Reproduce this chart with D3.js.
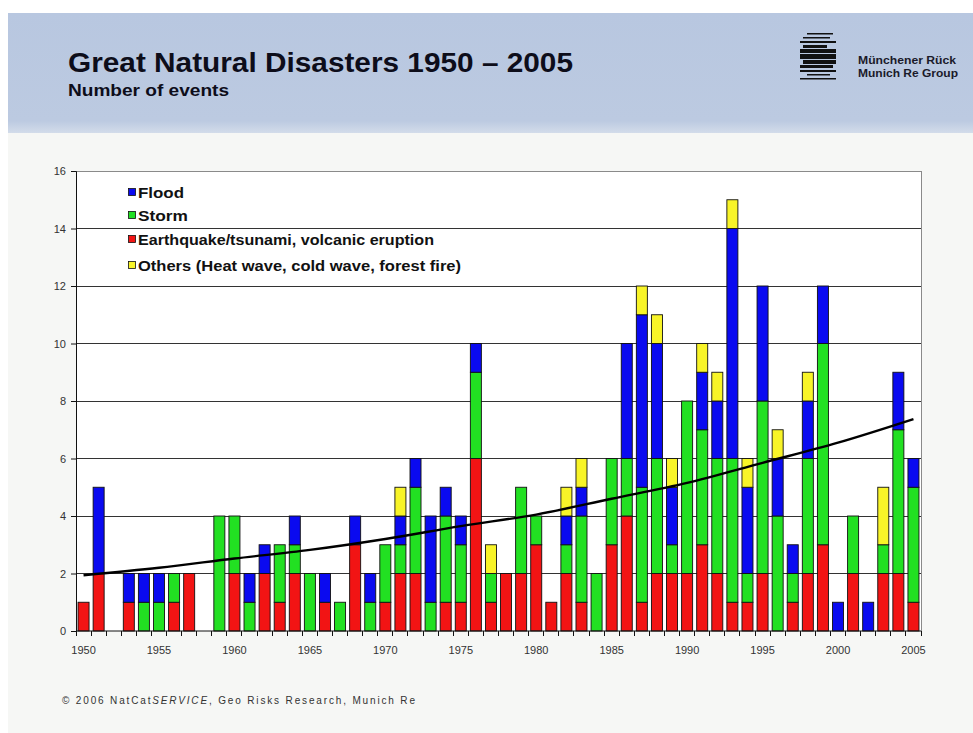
<!DOCTYPE html>
<html>
<head>
<meta charset="utf-8">
<script src="https://cdn.jsdelivr.net/npm/d3@7"></script>
<style>
  html, body { margin: 0; padding: 0; background: #ffffff; }
  svg { display: block; font-family: "Liberation Sans", Arial, Helvetica, sans-serif; }
</style>
</head>
<body>
<svg id="chart" width="973" height="733"></svg>
<script>
// Great natural disasters per year, split by event type
const years = d3.range(1950, 2006);
const quake = [1,2,0,1,0,0,1,2,0,0, 2,0,2,1,2,0,1,0,3,0, 1,2,2,0,1,1,6,1,2,2,
               3,1,2,1,0,3,4,1,2,2, 2,3,2,1,1,2,0,1,2,3, 0,2,0,2,2,1];
const storm = [0,0,0,0,1,1,1,0,0,4, 2,1,0,2,1,2,0,1,0,1, 2,1,3,1,3,2,3,1,0,3,
               1,0,1,3,2,3,2,4,4,1, 6,4,4,5,1,6,4,1,4,7, 0,2,0,1,5,4];
const flood = [0,3,0,1,1,1,0,0,0,0, 0,1,1,0,1,0,1,0,1,1, 0,1,1,3,1,1,1,0,0,0,
               0,0,1,1,0,0,4,6,4,2, 0,2,2,8,3,4,2,1,2,2, 1,0,1,0,2,1];
const others = [0,0,0,0,0,0,0,0,0,0, 0,0,0,0,0,0,0,0,0,0, 0,1,0,0,0,0,0,1,0,0,
                0,0,1,1,0,0,0,1,1,1, 0,1,1,1,1,0,1,0,1,0, 0,0,0,2,0,0];

// Trend curve of the yearly totals
const trendYears  = [1950, 1955, 1960, 1965, 1970, 1975, 1980, 1985, 1990, 1995, 2000, 2005];
const trendValues = [1.94, 2.2, 2.52, 2.82, 3.2, 3.65, 4.05, 4.6, 5.15, 5.85, 6.55, 7.37];

const yTicks = [0, 2, 4, 6, 8, 10, 12, 14, 16];
const xTickLabels = [1950, 1955, 1960, 1965, 1970, 1975, 1980, 1985, 1990, 1995, 2000, 2005];

const seriesKeys = ["quake", "storm", "flood", "others"];
const seriesColors = { quake: "#f21414", storm: "#22e022", flood: "#0a0af0", others: "#f8f428" };
const legendItems = [
  { key: "flood",  label: "Flood" },
  { key: "storm",  label: "Storm" },
  { key: "quake",  label: "Earthquake/tsunami, volcanic eruption" },
  { key: "others", label: "Others (Heat wave, cold wave, forest fire)" }
];

const svg = d3.select("#chart");

// Slide background and header band
const defs = svg.append("defs");
const grad = defs.append("linearGradient").attr("id", "hdr").attr("x1", 0).attr("x2", 0).attr("y1", 0).attr("y2", 1);
grad.append("stop").attr("offset", "0%").attr("stop-color", "#b8c7e0");
grad.append("stop").attr("offset", "90%").attr("stop-color", "#bccae1");
grad.append("stop").attr("offset", "100%").attr("stop-color", "#d3dcea");

svg.append("rect").attr("x", 8).attr("y", 13).attr("width", 965).attr("height", 720).attr("fill", "#f6f7f5");
svg.append("rect").attr("x", 8).attr("y", 13).attr("width", 965).attr("height", 120).attr("fill", "url(#hdr)");

svg.append("text").attr("x", 68).attr("y", 72)
  .attr("font-size", 28).attr("font-weight", "bold").attr("fill", "#0d0d1a")
  .attr("textLength", 505).attr("lengthAdjust", "spacingAndGlyphs")
  .text("Great Natural Disasters 1950 \u2013 2005");
svg.append("text").attr("x", 68).attr("y", 96)
  .attr("font-size", 16).attr("font-weight", "bold").attr("fill", "#0d0d1a")
  .attr("textLength", 161).attr("lengthAdjust", "spacingAndGlyphs")
  .text("Number of events");

// Company mark
const logo = svg.append("g").attr("fill", "#111");
[[807,33,26,1.5],[803,37,27,1.5],[800,41,36,2],[803,45,24,3],[800,49,36,4],[800,54,36,5],
 [803,60,33,4],[800,65,33,3],[800,70,36,2],[807,74,23,1.5],[800,78,36,1.5]]
  .forEach(r => logo.append("rect").attr("x", r[0]).attr("y", r[1]).attr("width", r[2]).attr("height", r[3]));
svg.append("text").attr("x", 858).attr("y", 64).attr("font-size", 10).attr("font-weight", "bold").attr("fill", "#1a1a2a")
  .attr("textLength", 98).attr("lengthAdjust", "spacingAndGlyphs").text("Münchener Rück");
svg.append("text").attr("x", 858).attr("y", 77).attr("font-size", 10).attr("font-weight", "bold").attr("fill", "#1a1a2a")
  .attr("textLength", 100).attr("lengthAdjust", "spacingAndGlyphs").text("Munich Re Group");

// Plot area
const plotLeft = 76, plotRight = 921, plotTop = 171, plotBottom = 631;
svg.append("rect").attr("x", plotLeft).attr("y", plotTop).attr("width", plotRight - plotLeft)
  .attr("height", plotBottom - plotTop).attr("fill", "#ffffff");

const x = d3.scaleBand().domain(years).range([plotLeft, plotRight]).paddingInner(0.27).paddingOuter(0.135);
const y = d3.scaleLinear().domain([0, 16]).range([plotBottom, plotTop]);

// Horizontal gridlines
svg.append("g").selectAll("line").data(yTicks.filter(v => v > 0 && v < 16)).join("line")
  .attr("x1", plotLeft).attr("x2", plotRight).attr("y1", d => y(d)).attr("y2", d => y(d))
  .attr("stroke", "#333").attr("stroke-width", 1).attr("shape-rendering", "crispEdges");
// Frame top and right
svg.append("line").attr("x1", plotLeft).attr("x2", plotRight).attr("y1", y(16)).attr("y2", y(16))
  .attr("stroke", "#8a8a8a").attr("shape-rendering", "crispEdges");
svg.append("line").attr("x1", plotRight).attr("x2", plotRight).attr("y1", plotTop).attr("y2", plotBottom)
  .attr("stroke", "#8a8a8a").attr("shape-rendering", "crispEdges");

// Stacked bars
const rows = years.map((yr, i) => ({ year: yr, quake: quake[i], storm: storm[i], flood: flood[i], others: others[i] }));
const stacked = d3.stack().keys(seriesKeys)(rows);
svg.append("g").selectAll("g").data(stacked).join("g")
  .attr("fill", d => seriesColors[d.key])
  .selectAll("rect").data(d => d.filter(s => s[1] > s[0])).join("rect")
  .attr("x", d => x(d.data.year)).attr("width", x.bandwidth())
  .attr("y", d => y(d[1])).attr("height", d => y(d[0]) - y(d[1]))
  .attr("stroke", "#111").attr("stroke-width", 0.9);

// Trend curve
const line = d3.line().x(d => x(d[0]) + x.bandwidth() / 2).y(d => y(d[1])).curve(d3.curveMonotoneX);
svg.append("path").datum(trendYears.map((yr, i) => [yr, trendValues[i]]))
  .attr("d", line).attr("fill", "none").attr("stroke", "#000").attr("stroke-width", 2.4);

// Y axis
const yAxis = svg.append("g").attr("transform", `translate(${plotLeft},0)`)
  .call(d3.axisLeft(y).tickValues(yTicks).tickSize(5).tickPadding(5));
yAxis.select(".domain").attr("stroke", "#111");
yAxis.selectAll(".tick line").attr("stroke", "#111");
yAxis.selectAll("text").attr("font-size", 11).attr("fill", "#333").attr("font-family", "'Liberation Sans', Arial, sans-serif");

// X axis: ticks at year boundaries, labels every five years
const xAxis = svg.append("g").attr("transform", `translate(0,${plotBottom})`)
  .call(d3.axisBottom(x).tickValues(xTickLabels).tickSize(0).tickPadding(15));
xAxis.select(".domain").attr("d", `M${plotLeft},0H${plotRight}`).attr("stroke", "#111");
xAxis.selectAll("text").attr("font-size", 11).attr("fill", "#333").attr("font-family", "'Liberation Sans', Arial, sans-serif");
svg.append("g").selectAll("line").data(d3.range(years.length + 1)).join("line")
  .attr("x1", i => plotLeft + i * x.step()).attr("x2", i => plotLeft + i * x.step())
  .attr("y1", plotBottom).attr("y2", plotBottom + 5).attr("stroke", "#111").attr("shape-rendering", "crispEdges");

// Legend
const legendY = [192, 215, 239, 265];
const legendLen = [46, 50, 296, 323];
const legend = svg.append("g");
legendItems.forEach((it, i) => {
  legend.append("rect").attr("x", 128.5).attr("y", legendY[i] - 3.5).attr("width", 7).attr("height", 7)
    .attr("fill", seriesColors[it.key]).attr("stroke", "#111").attr("stroke-width", 0.8);
  legend.append("text").attr("x", 138).attr("y", legendY[i] + 6)
    .attr("font-size", 15).attr("font-weight", "bold").attr("fill", "#111")
    .attr("textLength", legendLen[i]).attr("lengthAdjust", "spacingAndGlyphs")
    .text(it.label);
});

// Source line
const src = svg.append("text").attr("x", 62).attr("y", 704).attr("font-size", 10).attr("fill", "#333")
  .attr("textLength", 353).attr("lengthAdjust", "spacing");
src.append("tspan").text("\u00a9 2006 NatCat");
src.append("tspan").attr("font-style", "italic").text("SERVICE");
src.append("tspan").text(", Geo Risks Research, Munich Re");
</script>
</body>
</html>
